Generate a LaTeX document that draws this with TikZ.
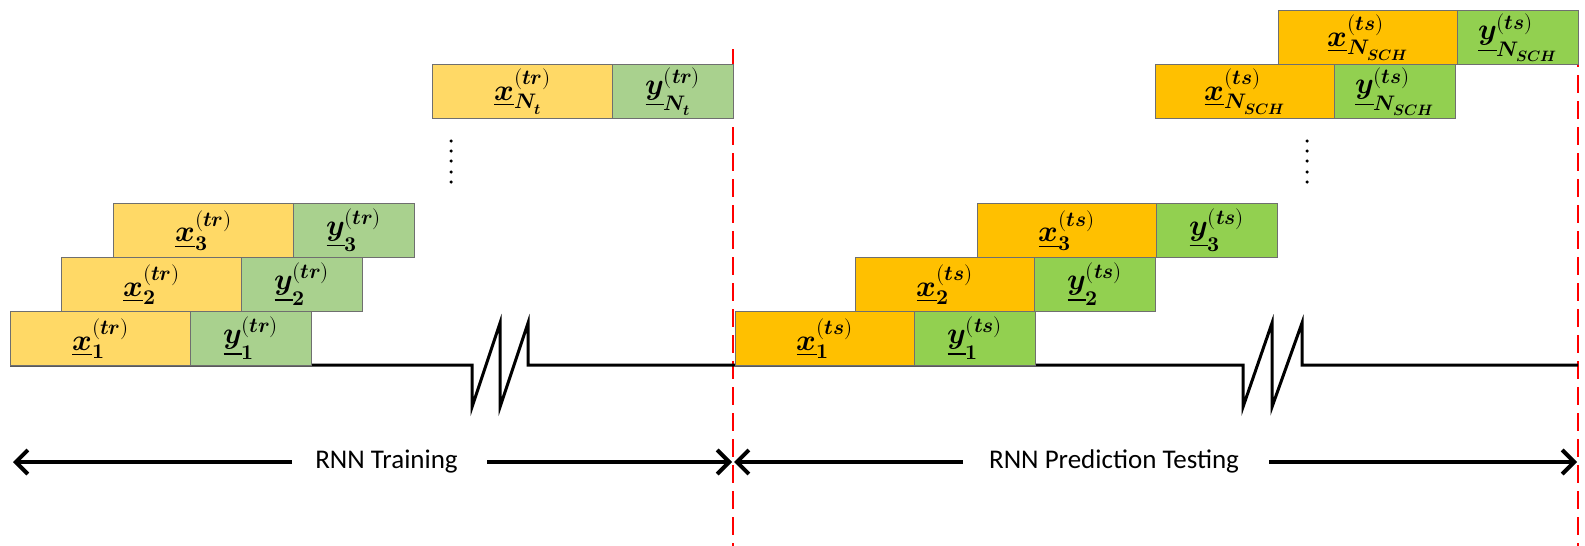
\documentclass[tikz,border=0pt]{standalone}
\usepackage{unicode-math}
\setmainfont{Carlito}
\setmathfont{Latin Modern Math}
\usetikzlibrary{arrows.meta}
\definecolor{xtrc}{HTML}{FFD966}
\definecolor{ytrc}{HTML}{A9D18E}
\definecolor{xtsc}{HTML}{FFC000}
\definecolor{ytsc}{HTML}{92D050}
\definecolor{bord}{HTML}{6F6F6F}
\newcommand{\xl}[2]{$\underline{\symbfit{x}}_{#1}^{(\symbfit{#2})}$}
\newcommand{\yl}[2]{$\underline{\symbfit{y}}_{#1}^{(\symbfit{#2})}$}
\begin{document}
\begin{tikzpicture}[x=1pt,y=-1pt,
  cell/.style={draw=bord, line width=1.1pt, minimum height=54pt, anchor=north west, inner sep=0pt, font=\fontsize{30}{32}\selectfont},
  xtr/.style={cell, fill=xtrc, minimum width=180pt},
  ytr/.style={cell, fill=ytrc, minimum width=121pt},
  xts/.style={cell, fill=xtsc, minimum width=179pt},
  yts/.style={cell, fill=ytsc, minimum width=121pt},
  axisline/.style={line width=3pt, line join=miter},
  reddash/.style={red, line width=2.5pt, dash pattern=on 18pt off 8pt},
  span/.style={line width=4pt, -{Straight Barb[length=12pt,width=24pt,line width=4pt]}},
  spanlabel/.style={font=\fontsize{27}{30}\selectfont, inner sep=0pt, anchor=base},
  dot/.style={fill=black, circle, inner sep=0pt, minimum size=3.5pt}
]
\useasboundingbox (0,0) rectangle (1585,546);
% red dashed separators
\coordinate (sepAtop) at (733,49);
\coordinate (sepAbot) at (733,546);
\coordinate (sepBtop) at (1578,49);
\coordinate (sepBbot) at (1578,546);
\draw[reddash] (sepAtop) -- (sepAbot);
\draw[reddash] (sepBtop) -- (sepBbot);
% time axis with breaks
\draw[axisline] (10,365) -- (472,365) -- (472,407) -- (500,323) -- (500,407) -- (528,323) -- (528,365)
  -- (1243,365) -- (1243,407) -- (1272,323) -- (1272,407) -- (1302,323) -- (1302,365) -- (1578,365);
% training boxes
\node[xtr] (x1tr) at (10,311) {\xl{\symbf{1}}{tr}};
\node[ytr] (y1tr) at (190,311) {\yl{\symbf{1}}{tr}};
\node[xtr] (x2tr) at (61,257) {\xl{\symbf{2}}{tr}};
\node[ytr] (y2tr) at (241,257) {\yl{\symbf{2}}{tr}};
\node[xtr] (x3tr) at (113,203) {\xl{\symbf{3}}{tr}};
\node[ytr] (y3tr) at (293,203) {\yl{\symbf{3}}{tr}};
\node[xtr] (xNtr) at (432,64) {\xl{\symbfit{N}_{\symbfit{t}}}{tr}};
\node[ytr] (yNtr) at (612,64) {\yl{\symbfit{N}_{\symbfit{t}}}{tr}};
% testing boxes
\node[xts] (x1ts) at (735,311) {\xl{\symbf{1}}{ts}};
\node[yts] (y1ts) at (914,311) {\yl{\symbf{1}}{ts}};
\node[xts] (x2ts) at (855,257) {\xl{\symbf{2}}{ts}};
\node[yts] (y2ts) at (1034,257) {\yl{\symbf{2}}{ts}};
\node[xts] (x3ts) at (977,203) {\xl{\symbf{3}}{ts}};
\node[yts] (y3ts) at (1156,203) {\yl{\symbf{3}}{ts}};
\node[xts] (xNats) at (1155,64) {\xl{\symbfit{N}_{\symbfit{SCH}}}{ts}};
\node[yts] (yNats) at (1334,64) {\yl{\symbfit{N}_{\symbfit{SCH}}}{ts}};
\node[xts] (xNbts) at (1278,10) {\xl{\symbfit{N}_{\symbfit{SCH}}}{ts}};
\node[yts] (yNbts) at (1457,10) {\yl{\symbfit{N}_{\symbfit{SCH}}}{ts}};
% vertical ellipses
\foreach \yy [count=\i] in {141,151,161,172,182} {
  \node[dot] (dl\i) at (451,\yy) {};
  \node[dot] (dr\i) at (1307,\yy) {};
}
% span arrows
\node[spanlabel] (trn) at (386.5,468) {RNN Training};
\node[spanlabel] (tst) at (1114,468) {RNN Prediction Testing};
\coordinate (trA) at (292,462);
\coordinate (trL) at (13,462);
\coordinate (trB) at (487,462);
\coordinate (trR) at (732,462);
\coordinate (tsA) at (963,462);
\coordinate (tsL) at (734,462);
\coordinate (tsB) at (1269,462);
\coordinate (tsR) at (1577,462);
\draw[span] (trA) -- (trL);
\draw[span] (trB) -- (trR);
\draw[span] (tsA) -- (tsL);
\draw[span] (tsB) -- (tsR);
\end{tikzpicture}
\end{document}
